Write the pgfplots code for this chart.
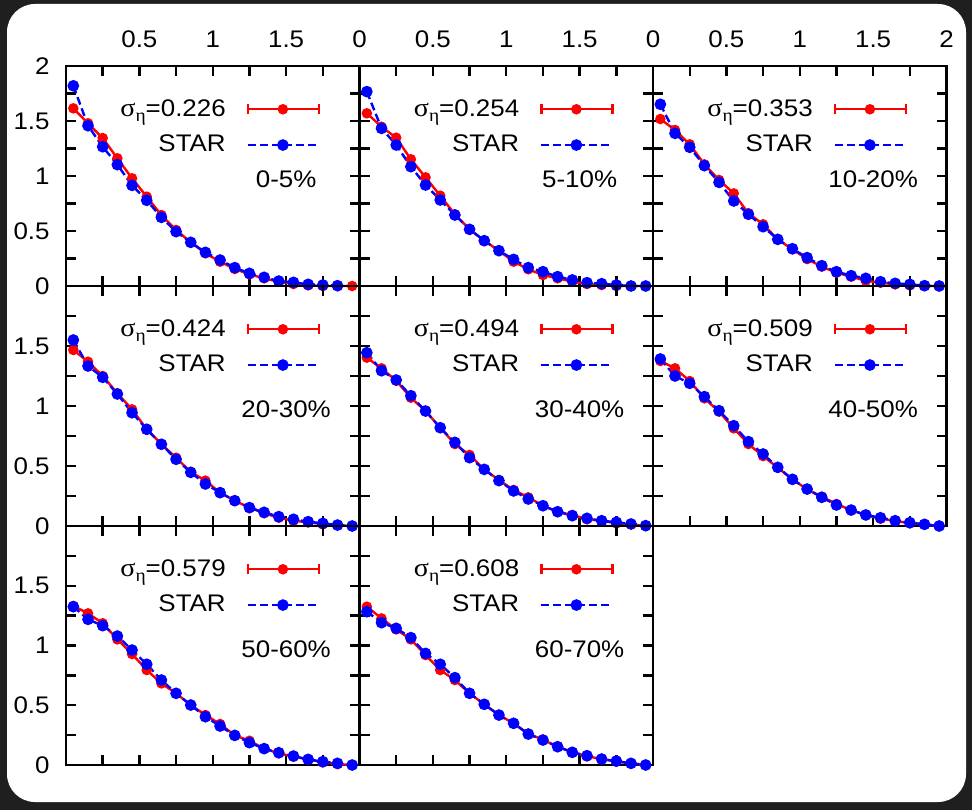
\documentclass[border=0pt]{standalone}
\usepackage{fontspec}
\setmainfont[FakeStretch=1.08]{Liberation Sans}
\newfontfamily\grk[FakeStretch=1.08]{Liberation Serif}
\usepackage{pgfplots}
\usepackage{pgfplotstable}
\pgfplotsset{compat=1.18}

% columns: x = Delta eta, m = model, s = STAR data
\pgfplotstableread{
x m s
0.05 1.615 1.820
0.15 1.479 1.457
0.25 1.345 1.266
0.35 1.161 1.103
0.45 0.979 0.915
0.55 0.812 0.779
0.65 0.645 0.624
0.75 0.509 0.494
0.85 0.397 0.397
0.95 0.297 0.306
1.05 0.221 0.236
1.15 0.155 0.167
1.25 0.106 0.115
1.35 0.070 0.079
1.45 0.039 0.045
1.55 0.018 0.033
1.65 0.006 0.015
1.75 0.000 0.009
1.85 0.000 0.003
1.95 0.000 nan
}\tabA
\pgfplotstableread{
x m s
0.05 1.570 1.767
0.15 1.448 1.433
0.25 1.348 1.282
0.35 1.152 1.085
0.45 0.988 0.918
0.55 0.821 0.782
0.65 0.652 0.645
0.75 0.515 0.515
0.85 0.412 0.412
0.95 0.321 0.321
1.05 0.221 0.242
1.15 0.152 0.167
1.25 0.100 0.130
1.35 0.070 0.085
1.45 0.039 0.055
1.55 0.018 0.030
1.65 0.009 0.021
1.75 0.000 0.009
1.85 0.000 0.000
1.95 0.000 0.000
}\tabB
\pgfplotstableread{
x m s
0.05 1.518 1.652
0.15 1.418 1.388
0.25 1.288 1.261
0.35 1.106 1.094
0.45 0.964 0.942
0.55 0.842 0.773
0.65 0.661 0.652
0.75 0.561 0.539
0.85 0.424 0.424
0.95 0.333 0.339
1.05 0.245 0.258
1.15 0.176 0.185
1.25 0.121 0.130
1.35 0.085 0.094
1.45 0.048 0.070
1.55 0.030 0.039
1.65 0.015 0.024
1.75 0.006 0.015
1.85 0.000 0.003
1.95 0.000 0.000
}\tabC
\pgfplotstableread{
x m s
0.05 1.467 1.550
0.15 1.369 1.333
0.25 1.250 1.239
0.35 1.106 1.100
0.45 0.972 0.944
0.55 0.806 0.806
0.65 0.683 0.681
0.75 0.569 0.556
0.85 0.450 0.447
0.95 0.378 0.350
1.05 0.278 0.278
1.15 0.211 0.211
1.25 0.153 0.153
1.35 0.106 0.114
1.45 0.069 0.078
1.55 0.044 0.056
1.65 0.031 0.036
1.75 0.014 0.022
1.85 0.006 0.008
1.95 0.000 0.000
}\tabD
\pgfplotstableread{
x m s
0.05 1.403 1.444
0.15 1.314 1.294
0.25 1.211 1.217
0.35 1.069 1.086
0.45 0.958 0.958
0.55 0.819 0.819
0.65 0.683 0.697
0.75 0.592 0.569
0.85 0.472 0.472
0.95 0.383 0.378
1.05 0.300 0.292
1.15 0.239 0.225
1.25 0.169 0.169
1.35 0.119 0.119
1.45 0.092 0.086
1.55 0.056 0.064
1.65 0.044 0.044
1.75 0.022 0.031
1.85 0.014 0.017
1.95 0.000 0.003
}\tabE
\pgfplotstableread{
x m s
0.05 1.375 1.392
0.15 1.314 1.250
0.25 1.208 1.189
0.35 1.064 1.078
0.45 0.953 0.961
0.55 0.814 0.836
0.65 0.683 0.703
0.75 0.583 0.600
0.85 0.486 0.489
0.95 0.389 0.389
1.05 0.306 0.308
1.15 0.244 0.239
1.25 0.183 0.175
1.35 0.133 0.133
1.45 0.092 0.092
1.55 0.061 0.069
1.65 0.044 0.044
1.75 0.022 0.028
1.85 0.014 0.014
1.95 0.000 0.000
}\tabF
\pgfplotstableread{
x m s
0.05 1.331 1.325
0.15 1.269 1.219
0.25 1.186 1.166
0.35 1.051 1.079
0.45 0.929 0.962
0.55 0.795 0.843
0.65 0.683 0.711
0.75 0.600 0.600
0.85 0.502 0.502
0.95 0.418 0.404
1.05 0.343 0.326
1.15 0.248 0.248
1.25 0.203 0.187
1.35 0.137 0.137
1.45 0.098 0.103
1.55 0.070 0.075
1.65 0.047 0.047
1.75 0.022 0.028
1.85 0.008 0.014
1.95 0.000 0.000
}\tabG
\pgfplotstableread{
x m s
0.05 1.325 1.283
0.15 1.227 1.191
0.25 1.135 1.144
0.35 1.051 1.066
0.45 0.920 0.934
0.55 0.795 0.843
0.65 0.711 0.731
0.75 0.600 0.600
0.85 0.508 0.508
0.95 0.418 0.418
1.05 0.349 0.349
1.15 0.262 0.259
1.25 0.212 0.209
1.35 0.153 0.153
1.45 0.109 0.106
1.55 0.073 0.078
1.65 0.050 0.050
1.75 0.028 0.033
1.85 0.014 0.014
1.95 0.000 0.000
}\tabH

\newcommand\labelfont{\fontsize{12}{14}\selectfont}

\pgfplotsset{
  panel/.style={
    scale only axis, width=146.75pt, anchor=south west,
    xmin=0, xmax=2, ymin=0, ymax=2, clip=false,
    xtick={0,0.5,1,1.5,2}, ytick={0,0.5,1,1.5,2},
    minor xtick={0.25,0.75,1.25,1.75}, minor ytick={0.25,0.75,1.25,1.75},
    tick align=inside, major tick length=5pt, minor tick length=5pt,
    tick style={black, line width=1.2pt},
    axis line style={line width=1.3pt},
    xticklabel pos=upper,
    tick label style={font=\labelfont},
    xticklabel style={inner sep=0pt, yshift=9pt},
    yticklabel style={inner sep=0pt, xshift=-8pt},
    legend plot pos=right,
    legend cell align=right,
    legend style={draw=none, fill=none, inner sep=0pt, font=\labelfont,
      at={(axis description cs:1,1)}, anchor=north east,
      xshift=-19.5pt, yshift=-14.5pt, row sep=4pt},
  },
  model/.style={red, line width=1.2pt, mark=*, mark size=2pt, mark options={solid},
    legend image code/.code={
      \path (0pt,0pt);
      \draw[mark repeat=2, mark phase=2, ##1] plot coordinates {(8.5pt,0pt) (26pt,0pt) (44pt,0pt)};
      \draw[red, line width=1.2pt] (8.5pt,-2.5pt) -- (8.5pt,2.5pt) (44pt,-2.5pt) -- (44pt,2.5pt);
    }},
  star/.style={blue, line width=1.2pt, dash pattern=on 4pt off 2pt, mark=*, mark size=2.3pt, mark options={solid},
    legend image code/.code={
      \path (0pt,0pt);
      \draw[mark repeat=2, mark phase=2, ##1] plot coordinates {(8.5pt,0pt) (26pt,0pt) (44pt,0pt)};
    }},
}

% #1,#2 lower-left corner, #3 height, #4 x labels, #5 y labels, #6 table, #7 width parameter, #8 centrality
\newcommand\panel[8]{%
  \begin{axis}[panel, at={(#1,#2)}, height=#3, xticklabels={#4}, yticklabels={#5}]
    \addplot[model] table[x=x, y=m] {#6};
    \addlegendentry{{\grk\fontsize{13}{14}\selectfont σ}\raisebox{-0.45ex}{\fontsize{9}{10}\selectfont\grk η}=#7}
    \addplot[star] table[x=x, y=s] {#6};
    \addlegendentry{STAR}
    \node[font=\labelfont] at (axis cs:1.5,0.97) {#8};
  \end{axis}}

\begin{document}
\begin{tikzpicture}
  \fill[black!88] (0,0) rectangle (486pt,405pt);
  \fill[white, rounded corners=14pt] (3.5pt,4pt) rectangle (483pt,403pt);
  \panel{33pt}{262pt}{110pt}{,0.5,1,1.5,}{0,0.5,1,1.5,2}{\tabA}{0.226}{0-5\%}
  \panel{179.75pt}{262pt}{110pt}{0,0.5,1,1.5,}{}{\tabB}{0.254}{5-10\%}
  \panel{326.5pt}{262pt}{110pt}{0,0.5,1,1.5,2}{}{\tabC}{0.353}{10-20\%}
  \panel{33pt}{142pt}{120pt}{}{0,0.5,1,1.5,}{\tabD}{0.424}{20-30\%}
  \panel{179.75pt}{142pt}{120pt}{}{}{\tabE}{0.494}{30-40\%}
  \panel{326.5pt}{142pt}{120pt}{}{}{\tabF}{0.509}{40-50\%}
  \panel{33pt}{22.5pt}{119.5pt}{}{0,0.5,1,1.5,}{\tabG}{0.579}{50-60\%}
  \panel{179.75pt}{22.5pt}{119.5pt}{}{}{\tabH}{0.608}{60-70\%}
\end{tikzpicture}
\end{document}
